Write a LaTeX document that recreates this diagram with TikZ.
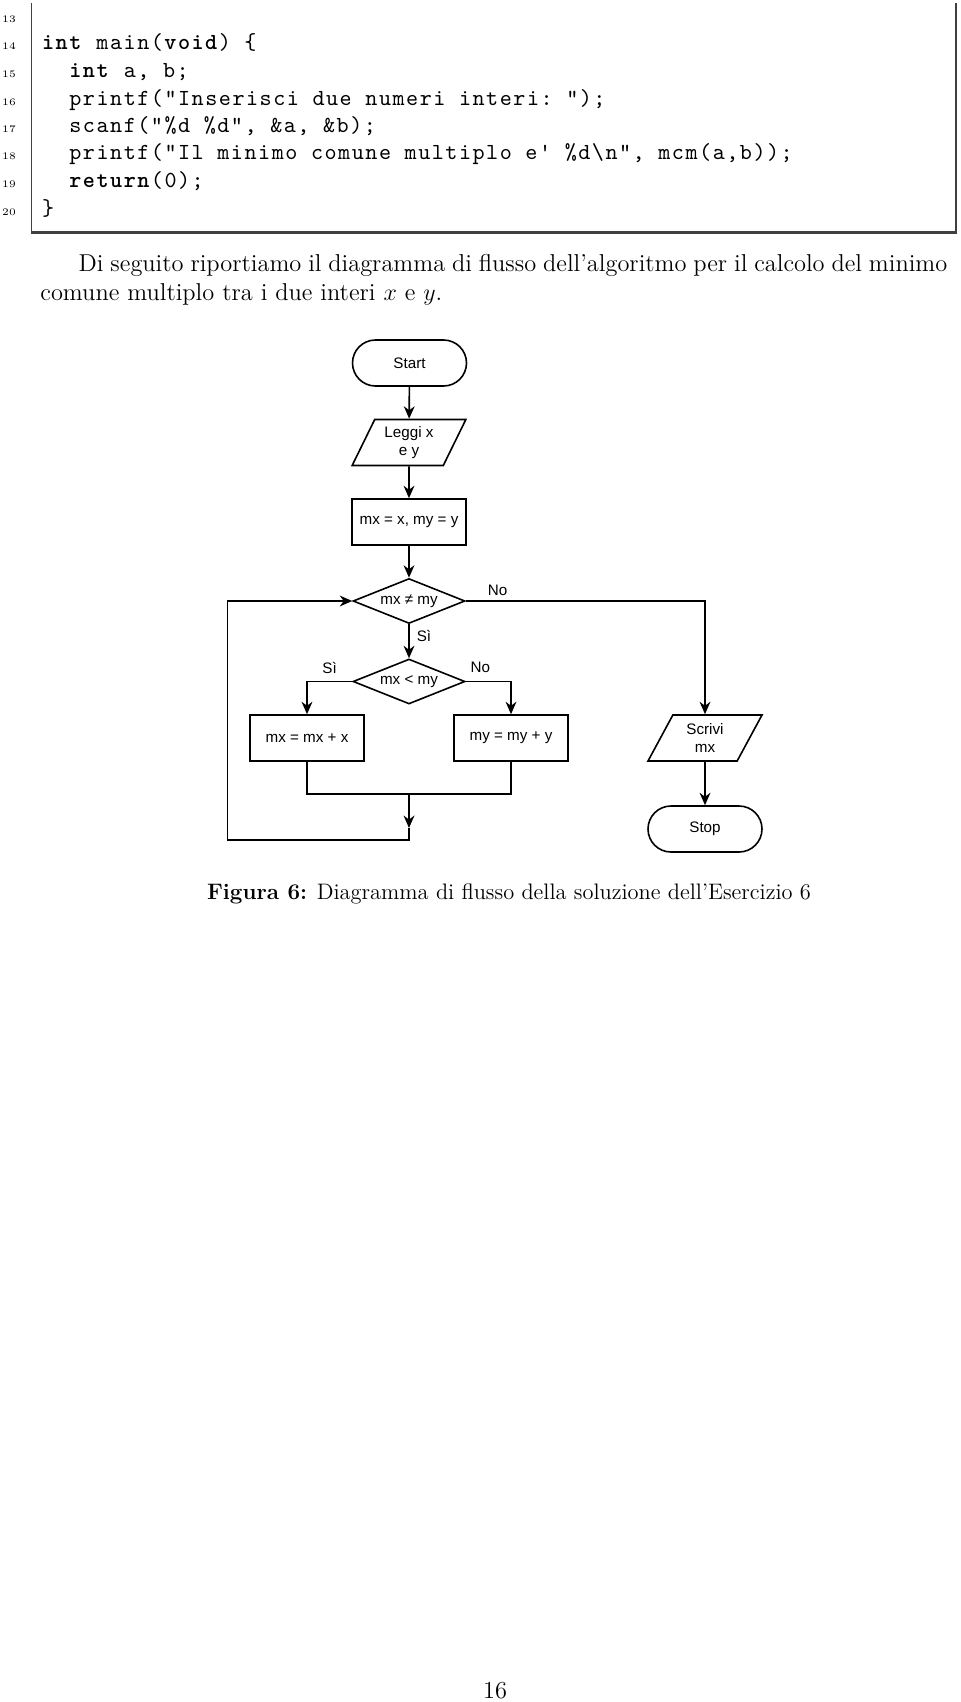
\documentclass[tikz,border=0pt]{standalone}
\usepackage{fontspec}
\setmonofont{lmmono10-regular.otf}[BoldFont=lmmonolt10-bold.otf,LetterSpace=6.6]
\newfontfamily\flowfont{Liberation Sans}
\usetikzlibrary{shapes.geometric,arrows.meta}
\begin{document}
\begin{tikzpicture}[x=0.5pt,y=-0.5pt]
\tikzset{txt/.style = {inner sep=0pt,font=\fontsize{12.2}{14.5}\selectfont}}
\tikzset{code/.style = {inner sep=0pt,anchor=base west,font=\ttfamily\fontsize{11.5}{13.75}\selectfont}}
\tikzset{num/.style = {inner sep=0pt,anchor=base,font=\fontsize{5}{6}\selectfont}}
\tikzset{fc/.style = {draw,line width=0.8pt,font=\flowfont\fontsize{7.6}{8.8}\selectfont,align=center}}
\tikzset{term/.style = {fc,rounded corners=11.5pt,minimum width=57pt,minimum height=23pt}}
\tikzset{proc/.style = {fc,minimum width=57pt,minimum height=23pt,inner sep=2pt}}
\tikzset{io/.style = {fc,trapezium,trapezium left angle=64,trapezium right angle=116,trapezium stretches=true,minimum width=57pt,minimum height=23pt,inner sep=1pt}}
\tikzset{test/.style = {fc,diamond,aspect=2.5,inner sep=0pt,minimum width=56pt,minimum height=22.5pt}}
\tikzset{edge/.style = {line width=0.8pt,-{Stealth[length=6.2pt,width=5.4pt,inset=2pt]}}}
\tikzset{lab/.style = {inner sep=0pt,font=\flowfont\fontsize{7.6}{8.8}\selectfont}}
\useasboundingbox (0,0) rectangle (960,1702);
% listing frame, open at the top
\draw[line width=0.5pt,black!75] (31,3) -- (31,232);
\draw[line width=1.1pt,black!75] (31,232.5) -- (956,232.5) -- (956,3);
% line numbers
\foreach \n [count=\i from 0] in {13,...,20}
  \node[num] (n\n) at (9,22.5+27.5*\i) {\n};
% code lines
\node[code] (c14) at (41.7,50) {\textbf{int} main(\textbf{void}) \{};
\node[code] (c15) at (69,77.5) {\textbf{int} a, b;};
\node[code] (c16) at (69,105) {printf("Inserisci due numeri interi: ");};
\node[code] (c17) at (69,132.5) {scanf("\%d \%d", \&a, \&b);};
\node[code] (c18) at (69,160) {printf("Il minimo comune multiplo e' \%d\textbackslash n", mcm(a,b));};
\node[code] (c19) at (69,187.5) {\textbf{return}(0);};
\node[code] (c20) at (41.7,215) {\}};
% paragraph
\node[txt,anchor=base west] (p1) at (78.3,271.7) {\makebox[434.3pt][s]{Di seguito riportiamo il diagramma di flusso dell’algoritmo per il calcolo del minimo}};
\node[txt,anchor=base west] (p2) at (40,300) {comune multiplo tra i due interi $x$ e $y$.};
% flowchart, main column
\node[term] (start) at (409.5,363) {Start};
\node[io] (leggi) at (409,442.5) {Leggi x\\e y};
\node[proc] (init) at (409,522) {mx = x, my = y};
\node[test] (ne) at (409,601) {mx ≠ my};
\node[test] (lt) at (409,681.5) {mx < my};
\node[proc] (incx) at (307,738) {mx = mx + x};
\node[proc] (incy) at (511,738) {my = my + y};
% flowchart, right column
\node[io] (scrivi) at (705,738) {Scrivi\\mx};
\node[term] (stop) at (705,829) {Stop};
% corners of the loop
\coordinate (join) at (409,794);
\coordinate (mid) at (409,828);
\coordinate (back) at (409,840);
\coordinate (loop) at (227.5,840);
\draw[edge] (start) -- (leggi);
\draw[edge] (leggi) -- (init);
\draw[edge] (init) -- (ne);
\draw[edge] (ne) -- (lt);
\draw[edge] (ne.east) -| (scrivi.north);
\draw[edge] (lt.west) -| (incx.north);
\draw[edge] (lt.east) -| (incy.north);
\draw[line width=0.8pt] (incx.south) |- (join) -| (incy.south);
\draw[edge] (join) -- (mid);
\draw[edge] (mid) -- (back) -- (loop) |- (ne.west);
\draw[edge] (scrivi) -- (stop);
\node[lab] (no1) at (497.5,590) {No};
\node[lab] (si1) at (424,636) {Sì};
\node[lab] (si2) at (329.6,667.7) {Sì};
\node[lab] (no2) at (480.4,667.7) {No};
% caption and page number
\node[txt,anchor=base west,font=\fontsize{11.2}{13.5}\selectfont] (cap) at (206.7,899) {\textbf{Figura 6:} Diagramma di flusso della soluzione dell’Esercizio 6};
\node[txt,anchor=base] (page) at (495,1698) {16};
\end{tikzpicture}
\end{document}
